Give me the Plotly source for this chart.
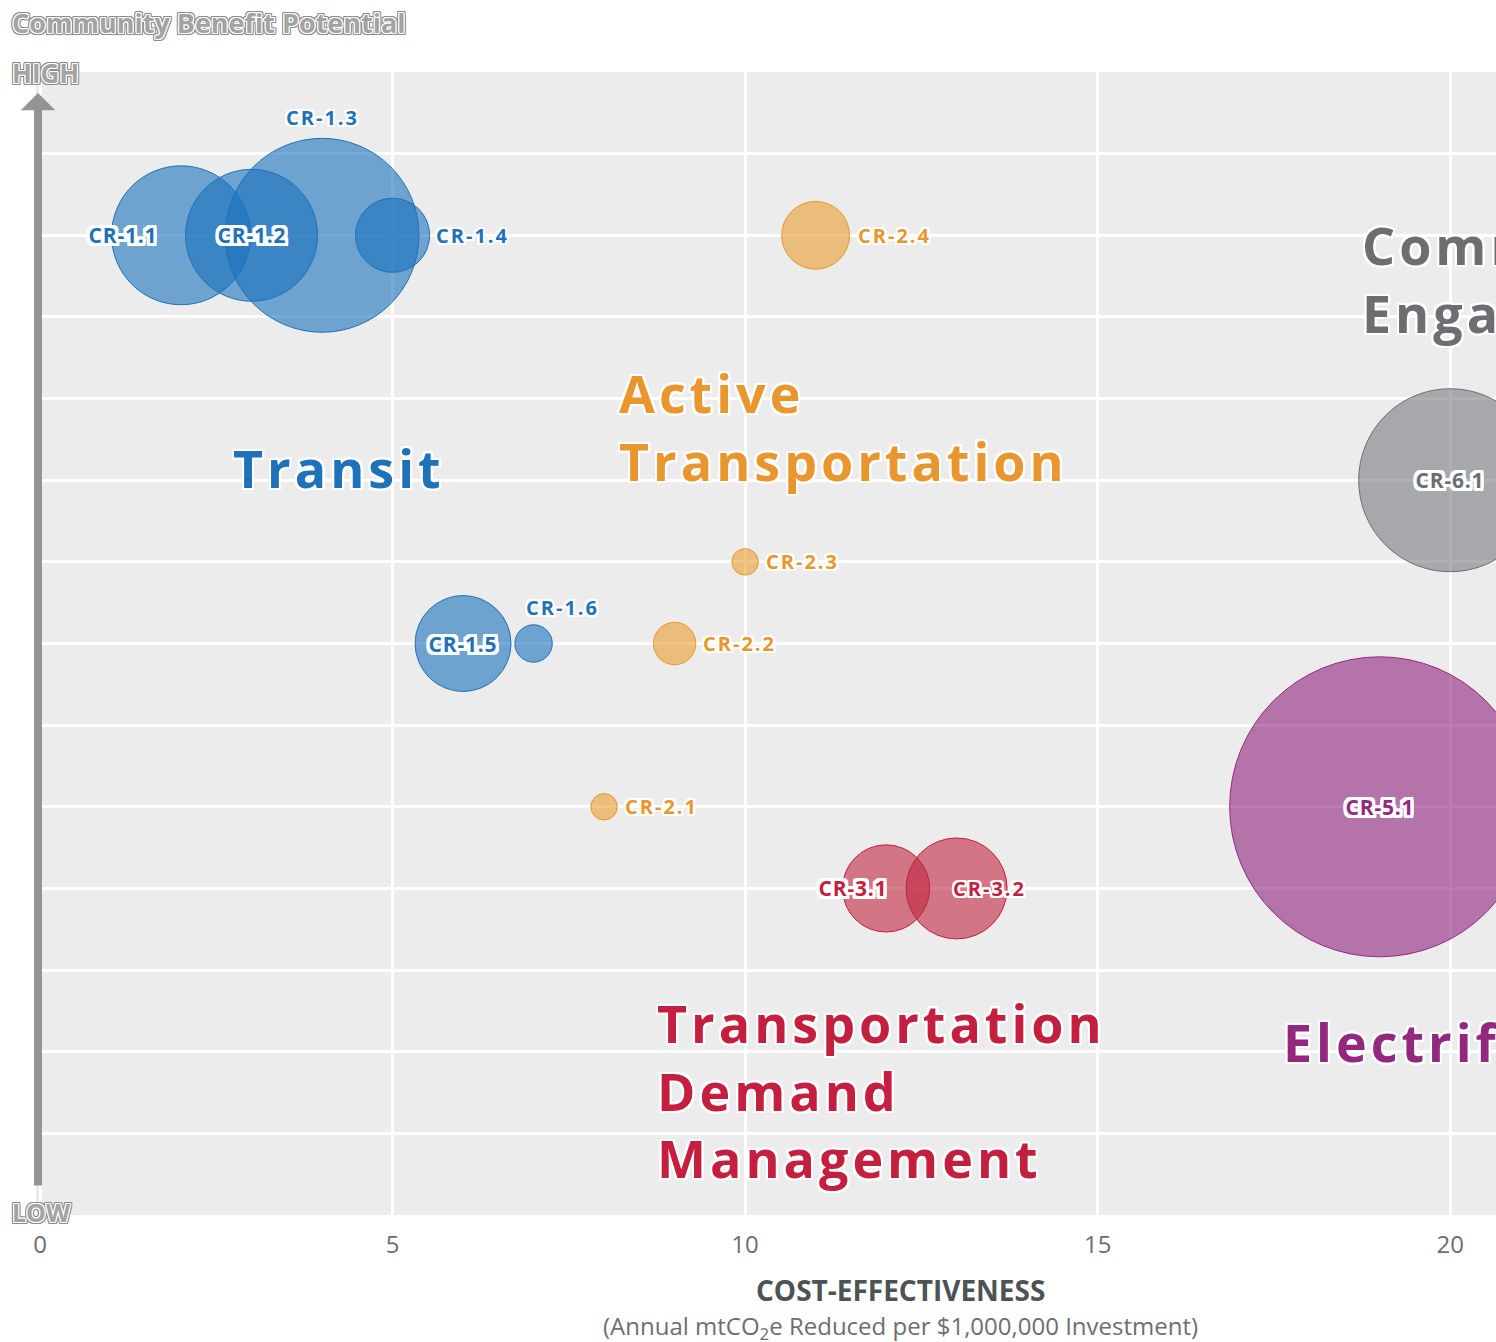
import plotly.graph_objects as go

# measures and their scores
measures = ["CR-1.1", "CR-1.2", "CR-1.3", "CR-1.4", "CR-1.5", "CR-1.6",
            "CR-2.1", "CR-2.2", "CR-2.3", "CR-2.4",
            "CR-3.1", "CR-3.2", "CR-5.1", "CR-6.1"]
cost_effectiveness = [2, 3, 4, 5, 6, 7, 8, 9, 10, 11, 12, 13, 19, 20]
community_benefit = [12, 12, 12, 12, 7, 7, 5, 7, 8, 12, 4, 4, 5, 9]
ghg_reduction = [193, 174, 376, 55, 92, 14, 7, 18, 7, 46, 76, 102, 900, 335]
sectors = ["Transit"] * 6 + ["Active Transportation"] * 4 + \
          ["Transportation Demand Management"] * 2 + \
          ["Electrification", "Community Engagement"]

sector_names = ["Transit", "Active Transportation", "Transportation Demand Management",
                "Electrification", "Community Engagement"]
sector_titles = ["Transit", "Active<br>Transportation",
                 "Transportation<br>Demand<br>Management",
                 "Electrification", "Community<br>Engagement"]
title_x = [2.71, 8.18, 8.72, 17.6, 18.72]
title_y = [9.16, 9.66, 1.53, 2.13, 11.47]

x_ticks = [0, 5, 10, 15, 20]

# colours per sector: (fill, outline/text)
colors = {
    "Transit": ("rgba(27,114,188,0.6)", "#1f72b8"),
    "Active Transportation": ("rgba(235,159,47,0.6)", "#e8962d"),
    "Transportation Demand Management": ("rgba(193,38,65,0.6)", "#c41f3e"),
    "Electrification": ("rgba(145,36,125,0.6)", "#93297f"),
    "Community Engagement": ("rgba(122,123,128,0.6)", "#6d6e71"),
}

# label placement (xanchor, xshift, yshift)
label_pos = {
    "CR-1.1": ("center", -58, 0), "CR-1.2": ("center", 0, 0),
    "CR-1.3": ("center", 0, 118), "CR-1.4": ("left", 47, 0),
    "CR-1.5": ("center", 0, 0), "CR-1.6": ("left", -4, 36),
    "CR-2.1": ("left", 25, 0), "CR-2.2": ("left", 32, 0),
    "CR-2.3": ("left", 25, 0), "CR-2.4": ("left", 46, 0),
    "CR-3.1": ("center", -33, 0), "CR-3.2": ("center", 33, 0),
    "CR-5.1": ("center", 0, 0), "CR-6.1": ("center", 0, 0),
}
spaced_labels = ["CR-1.3", "CR-1.4", "CR-1.6", "CR-2.1", "CR-2.2", "CR-2.3", "CR-2.4", "CR-3.2"]

FONT = "Open Sans"


def outline(color, w):
    parts = []
    for dx in range(-w, w + 1):
        for dy in range(-w, w + 1):
            if dx or dy:
                parts.append(f"{color} {dx}px {dy}px 0px")
    return ", ".join(parts)


fig = go.Figure()

for s in sector_names:
    idx = [i for i, v in enumerate(sectors) if v == s]
    fill, line = colors[s]
    fig.add_trace(go.Scatter(
        x=[cost_effectiveness[i] for i in idx],
        y=[community_benefit[i] for i in idx],
        mode="markers",
        marker=dict(size=[ghg_reduction[i] for i in idx], sizemode="area", sizeref=0.02,
                    color=fill, opacity=1, line=dict(color=line, width=1)),
        text=[measures[i] for i in idx],
        name=s, showlegend=False, cliponaxis=False,
    ))

annotations = []

# measure labels
for m, xv, yv, s in zip(measures, cost_effectiveness, community_benefit, sectors):
    xa, xs, ys = label_pos[m]
    inside = m not in spaced_labels
    annotations.append(dict(
        x=xv, y=yv, xref="x", yref="y", text=m, showarrow=False,
        xanchor=xa, yanchor="middle", xshift=xs, yshift=ys,
        font=dict(family=FONT, size=21 if inside else 20, weight=700, color=colors[s][1],
                  shadow=outline("white", 3 if inside else 2)),
    ))

# sector titles
for name, t, tx, ty in zip(sector_names, sector_titles, title_x, title_y):
    annotations.append(dict(
        x=tx, y=ty, xref="x", yref="y", text=t, showarrow=False,
        xanchor="left", yanchor="middle", align="left",
        font=dict(family=FONT, size=52, weight=700, color=colors[name][1],
                  shadow=outline("white", 2)),
    ))

# vertical axis arrow
annotations.append(dict(
    x=0.00137, y=0.9816, xref="paper", yref="paper", text="", showarrow=True,
    ax=0, ay=1094, arrowcolor="#949494", arrowwidth=8, arrowhead=1, arrowsize=0.72,
))

gray_outline = outline("white", 1) + ", " + outline("#8c8c8c", 2)
annotations += [
    dict(x=-0.0178, y=1.0429, xref="paper", yref="paper", text="Community Benefit Potential",
         showarrow=False, xanchor="left", yanchor="middle",
         font=dict(family=FONT, size=27, weight=700, color="#a3a3a3", shadow=gray_outline)),
    dict(x=-0.0178, y=0.9991, xref="paper", yref="paper", text="HIGH",
         showarrow=False, xanchor="left", yanchor="middle",
         font=dict(family=FONT, size=26, weight=700, color="#a3a3a3", shadow=gray_outline)),
    dict(x=-0.0178, y=0.0026, xref="paper", yref="paper", text="LOW",
         showarrow=False, xanchor="left", yanchor="middle",
         font=dict(family=FONT, size=25, weight=700, color="#a3a3a3", shadow=gray_outline)),
    dict(x=0.592, y=-0.0656, xref="paper", yref="paper", text="COST-EFFECTIVENESS",
         showarrow=False, xanchor="center", yanchor="middle",
         font=dict(family=FONT, size=28, weight=700, color="#4d5254")),
    dict(x=0.592, y=-0.098, xref="paper", yref="paper",
         text="(Annual mtCO<sub>2</sub>e Reduced per $1,000,000 Investment)",
         showarrow=False, xanchor="center", yanchor="middle",
         font=dict(family=FONT, size=24, color="#6d6e71")),
]

fig.update_layout(
    width=1496, height=1342,
    margin=dict(l=36, r=0, t=72, b=127),
    paper_bgcolor="white", plot_bgcolor="#ebeceb",
    annotations=annotations,
    xaxis=dict(range=[-0.057, 20.65], tickvals=x_ticks, showgrid=True, gridcolor="white",
               gridwidth=3, zeroline=False, showline=False, ticks="",
               tickfont=dict(family=FONT, size=24, color="#6d6e71"), ticklabelstandoff=13),
    yaxis=dict(range=[0, 14], dtick=1, showgrid=True, gridcolor="white", gridwidth=3,
               zeroline=False, showticklabels=False, ticks=""),
)

# no page margin, plus tracking (letter spacing) for the big titles and labels
post_js = """
document.body.style.margin = '0';
var spaced = %s;
document.querySelectorAll('text.annotation-text').forEach(function(t){
  var fs = parseFloat(t.style.fontSize);
  if (fs >= 40) { t.style.letterSpacing = '4px'; }
  else if (spaced.indexOf(t.textContent) >= 0) { t.style.letterSpacing = '2px'; }
  else if (t.textContent.indexOf('CR-') === 0) { t.style.letterSpacing = '0.8px'; }
});
""" % str(spaced_labels)

fig.write_html("out.html", post_script=post_js, config={"displayModeBar": False})
